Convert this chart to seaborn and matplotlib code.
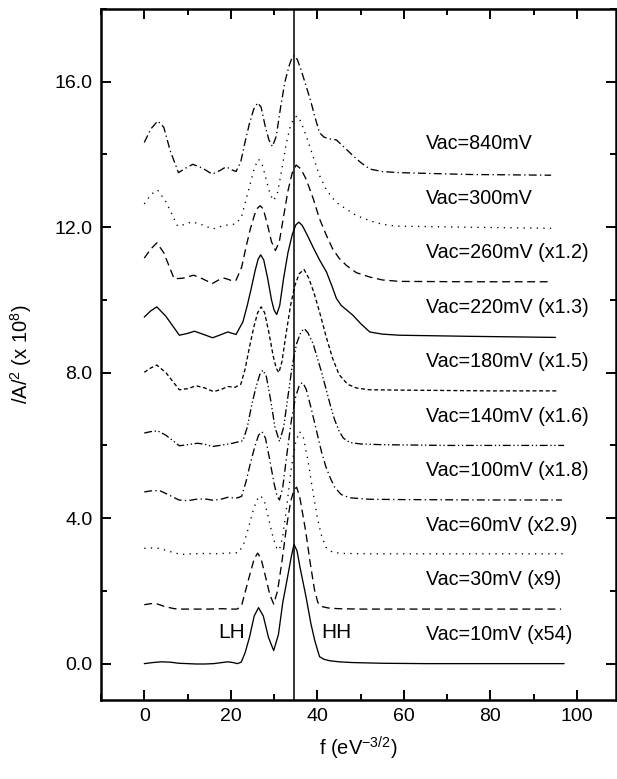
import numpy as np
import pandas as pd
import matplotlib
matplotlib.use("Agg")
import matplotlib.pyplot as plt
from matplotlib.ticker import MultipleLocator, FormatStrFormatter
import seaborn as sns

# ---------------- data ----------------
labels = ["Vac=10mV (x54)", "Vac=30mV (x9)", "Vac=60mV (x2.9)", "Vac=100mV (x1.8)",
          "Vac=140mV (x1.6)", "Vac=180mV (x1.5)", "Vac=220mV (x1.3)",
          "Vac=260mV (x1.2)", "Vac=300mV", "Vac=840mV"]
offsets = [0.0, 1.5, 3.0, 4.5, 6.0, 7.5, 9.0, 10.5, 12.0, 13.5]

f_10 = [0, 2, 4, 6, 8, 10, 12, 14, 16, 18, 19.3, 20.5, 21.5, 22.4, 23.3, 24.3, 25.4, 26.4, 27.5, 28.7,
        29.9, 31, 32, 33, 34, 34.6, 35.3, 36, 37.4, 38.5, 39.4, 40.5, 41.5, 42.8, 45, 48, 55, 65, 80, 97]
a_10 = [0, 0.03, 0.05, 0.04, 0.01, 0.0, -0.01, -0.01, 0.0, 0.03, 0.05, 0.03, 0.0, 0.04, 0.3, 0.72, 1.31, 1.54, 1.31, 0.72,
        0.36, 0.8, 1.68, 2.31, 2.96, 3.28, 3.1, 2.64, 1.82, 1.1, 0.63, 0.19, 0.12, 0.08, 0.05, 0.03, 0.01, 0.0, 0.0, 0.0]

f_30 = [0, 1.5, 3, 5, 7, 9, 12, 15, 18, 20, 21.5, 22.5, 23.5, 24.5, 25.4, 26.2, 27, 28, 29, 29.9,
        30.8, 31.8, 32.8, 33.8, 34.6, 35.2, 35.9, 37.3, 38.3, 39.3, 40.1, 41, 42.5, 45, 50, 60, 75, 96.3]
a_30 = [0.12, 0.15, 0.14, 0.06, 0.01, 0.0, 0.0, 0.0, 0.01, 0.0, 0.0, 0.1, 0.55, 1.0, 1.38, 1.54, 1.38, 0.9, 0.4, 0.14,
        0.5, 1.3, 2.2, 2.95, 3.28, 3.35, 3.1, 2.14, 1.3, 0.55, 0.18, 0.07, 0.03, 0.01, 0.0, 0.0, 0.0, 0.0]

f_60 = [0, 1.5, 3.5, 6, 8.5, 11, 14, 17, 19.5, 21.8, 23, 24, 25, 26, 26.9, 27.8, 28.8, 29.8, 30.6, 31.2,
        32, 33, 34, 35, 35.9, 36.8, 37.8, 39, 40, 41, 42, 43.5, 46, 52, 65, 80, 96.8]
a_60 = [0.17, 0.18, 0.17, 0.08, 0.0, 0.02, 0.03, 0.02, 0.04, 0.05, 0.3, 0.7, 1.15, 1.5, 1.62, 1.45, 0.95, 0.45, 0.18, 0.12,
        0.5, 1.4, 2.4, 3.1, 3.38, 3.2, 2.6, 1.7, 1.0, 0.5, 0.2, 0.06, 0.03, 0.02, 0.02, 0.02, 0.02]

f_100 = [0, 1.5, 3.5, 5.5, 8, 10, 12, 14, 16, 18, 19.5, 21, 22.5, 23.5, 24.5, 25.5, 26.4, 27.2, 28, 29, 30,
         30.7, 31.25, 32, 33, 34, 35, 35.9, 36.6, 37.4, 38.5, 40, 41, 42, 43, 44, 45.5, 47.5, 52, 60, 80, 96.5]
a_100 = [0.22, 0.25, 0.26, 0.15, 0.0, -0.02, 0.02, 0.03, -0.01, 0.03, 0.08, 0.04, 0.1, 0.5, 1.0, 1.45, 1.78, 1.88, 1.7, 1.1, 0.45,
         0.1, 0.0, 0.35, 1.3, 2.2, 2.85, 3.18, 3.23, 3.05, 2.55, 1.8, 1.3, 0.9, 0.6, 0.35, 0.15, 0.06, 0.02, 0.01, 0.0, 0.0]

f_140 = [0, 1.5, 3.1, 5, 8.1, 10, 12.3, 14, 15.8, 18, 20.4, 22.8, 23.8, 24.8, 25.8, 26.7, 27.4, 28.2, 29.2, 30.2,
         31.25, 32.2, 33.2, 34.2, 35.2, 36.2, 37, 37.8, 39, 40, 41, 42, 43, 44, 45, 46, 47.5, 50, 55, 70, 97]
a_140 = [0.34, 0.38, 0.4, 0.28, -0.01, 0.02, 0.06, 0.03, -0.03, 0.01, 0.06, 0.13, 0.5, 1.1, 1.6, 1.95, 2.07, 1.9, 1.25, 0.5,
         0.11, 0.5, 1.35, 2.2, 2.8, 3.12, 3.21, 3.1, 2.8, 2.4, 2.0, 1.55, 1.1, 0.7, 0.4, 0.2, 0.08, 0.04, 0.02, 0.0, 0.0]

f_180 = [0, 1.5, 2.9, 5, 8.1, 10, 12, 14, 16, 17.8, 19.3, 21, 22.3, 23.3, 24.3, 25.3, 26.2, 27, 27.8, 28.8,
         29.8, 30.5, 31.1, 31.8, 32.8, 33.8, 34.8, 35.8, 36.9, 38, 39.2, 40.5, 42, 43.5, 45, 47, 49, 52, 60, 80, 95.6]
a_180 = [0.51, 0.63, 0.71, 0.5, 0.03, 0.06, 0.14, 0.08, -0.02, 0.04, 0.12, 0.1, 0.18, 0.6, 1.2, 1.75, 2.15, 2.31, 2.15, 1.6,
         0.95, 0.62, 0.5, 0.8, 1.6, 2.35, 2.9, 3.22, 3.34, 3.1, 2.7, 2.17, 1.5, 0.9, 0.45, 0.18, 0.08, 0.03, 0.02, 0.0, 0.0]

f_220 = [0, 1.5, 2.9, 5, 8.1, 10, 11.6, 13.5, 15.8, 17.8, 19.3, 21.2, 22.8, 23.8, 24.7, 25.6, 26.3, 26.9, 27.6, 28.5,
         29.4, 30.0, 30.6, 31.3, 32.2, 33.2, 34.2, 35.0, 35.7, 36.5, 37.8, 39, 40.5, 42.1, 43.3, 44.4, 45.5, 46.8, 48.2,
         50, 52.1, 55, 59, 75, 95]
a_220 = [0.53, 0.7, 0.81, 0.55, 0.03, 0.08, 0.14, 0.06, -0.04, 0.05, 0.12, 0.05, 0.4, 0.85, 1.31, 1.8, 2.12, 2.24, 2.1, 1.6,
         1.0, 0.72, 0.6, 0.85, 1.6, 2.3, 2.8, 3.06, 3.14, 3.05, 2.75, 2.45, 2.1, 1.77, 1.4, 1.04, 0.85, 0.72, 0.58,
         0.35, 0.12, 0.06, 0.03, 0.0, -0.03]

f_260 = [0, 1.5, 2.9, 4.5, 6.9, 9, 11.4, 13.5, 15.7, 17.2, 18.5, 20, 21.2, 22.5, 23.5, 24.5, 25.5, 26.2, 26.8, 27.5,
         28.4, 29.4, 30.3, 31.2, 32.2, 33.2, 34.2, 35.1, 36.2, 37.4, 39, 40.5, 42, 43.5, 45, 46.7, 49, 52.1, 55, 59, 75, 94]
a_260 = [0.65, 0.9, 1.07, 0.8, 0.08, 0.1, 0.18, 0.08, -0.05, 0.05, 0.1, 0.04, 0.04, 0.4, 0.95, 1.45, 1.85, 2.03, 2.09, 2.0,
         1.6, 1.1, 0.86, 1.1, 1.8, 2.5, 3.0, 3.21, 3.1, 2.82, 2.3, 1.73, 1.3, 0.91, 0.65, 0.45, 0.25, 0.13, 0.05, 0.01, 0.0, 0.0]

f_300 = [0, 1.5, 3.1, 5, 7.7, 9.5, 11, 13.5, 15.8, 18.5, 21.2, 22.5, 23.5, 24.5, 25.5, 26.4, 27.2, 28.2, 29.1, 29.9,
         30.8, 31.8, 32.8, 33.8, 34.6, 35.3, 36.2, 37.4, 39, 40.5, 42, 43.5, 45, 46.7, 49, 52.1, 55, 58.3, 75, 94]
a_300 = [0.64, 0.9, 1.02, 0.7, 0.03, 0.08, 0.15, 0.06, -0.05, 0.05, 0.09, 0.3, 0.75, 1.2, 1.65, 1.87, 1.75, 1.3, 0.9, 0.73,
         0.95, 1.6, 2.3, 2.8, 3.0, 3.06, 2.9, 2.51, 1.95, 1.42, 1.05, 0.8, 0.62, 0.5, 0.32, 0.18, 0.08, 0.03, 0.0, -0.03]

f_840 = [0, 1.5, 3.1, 4.5, 6, 7.9, 9.5, 11.2, 13.5, 15.7, 17.5, 18.9, 20.2, 21.2, 22.3, 23.3, 24.3, 25.3, 26.2, 27,
         27.9, 28.8, 29.6, 30.5, 31.5, 32.5, 33.5, 34.2, 34.7, 35.4, 36.3, 37.4, 38.5, 39.5, 40.5, 41.5, 42.7, 44.4,
         46, 48.2, 50, 52.1, 55, 59, 75, 94]
a_840 = [0.83, 1.2, 1.42, 1.25, 0.6, 0.0, 0.12, 0.23, 0.12, -0.04, 0.06, 0.16, 0.08, 0.03, 0.3, 0.85, 1.35, 1.75, 1.92, 1.8,
         1.3, 0.9, 0.72, 1.0, 1.8, 2.5, 2.95, 3.18, 3.22, 3.1, 2.8, 2.38, 1.95, 1.5, 1.1, 0.98, 0.93, 0.9,
         0.72, 0.47, 0.28, 0.1, 0.03, 0.0, -0.05, -0.07]

curves_f = [f_10, f_30, f_60, f_100, f_140, f_180, f_220, f_260, f_300, f_840]
curves_a = [a_10, a_30, a_60, a_100, a_140, a_180, a_220, a_260, a_300, a_840]

hh_position = 34.5
peak_labels = ["LH", "HH"]
x_major_ticks = [0, 20, 40, 60, 80, 100]
y_major_ticks = [0.0, 4.0, 8.0, 12.0, 16.0]

# ---------------- styling ----------------
linestyles = ['-', (0, (6, 3.5)), (0, (1, 4)), (0, (6, 2.5, 1, 2.5)), (0, (6, 2, 1, 2, 1, 2)),
              (0, (3, 2)), '-', (0, (6, 3.5)), (0, (1, 4)), (0, (6, 2.5, 1, 2.5))]

sns.set_style("ticks")
plt.rcParams['font.family'] = ['Liberation Sans', 'DejaVu Sans']
plt.rcParams['mathtext.fontset'] = 'custom'
plt.rcParams['mathtext.rm'] = 'Liberation Sans'
plt.rcParams['mathtext.it'] = 'Liberation Sans:italic'
plt.rcParams['mathtext.bf'] = 'Liberation Sans:bold'
plt.rcParams['text.color'] = 'black'
plt.rcParams['axes.labelcolor'] = 'black'
plt.rcParams['xtick.color'] = 'black'
plt.rcParams['ytick.color'] = 'black'

rows = []
for lab, off, fx, ay in zip(labels, offsets, curves_f, curves_a):
    for xv, yv in zip(fx, ay):
        rows.append({"f": xv, "A": yv + off, "curve": lab})
df = pd.DataFrame(rows)

fig = plt.figure(figsize=(6.17, 7.79), dpi=100)
ax = fig.add_axes([101 / 617, 79 / 779, 515 / 617, 691 / 779])

for lab, ls in zip(labels, linestyles):
    sub = df[df["curve"] == lab]
    sns.lineplot(data=sub, x="f", y="A", ax=ax, color="black", lw=0.95,
                 linestyle=ls, sort=False, estimator=None)

ax.axvline(hh_position, color="black", lw=1.1)

ax.set_xlim(-10, 109)
ax.set_ylim(-1, 18)
ax.set_xticks(x_major_ticks)
ax.set_yticks(y_major_ticks)
ax.xaxis.set_minor_locator(MultipleLocator(10))
ax.yaxis.set_minor_locator(MultipleLocator(2))
ax.yaxis.set_major_formatter(FormatStrFormatter('%.1f'))
ax.tick_params(which='both', direction='in', top=True, right=True, width=1.4,
               labelsize=14, colors='black', pad=6)
ax.tick_params(which='major', length=7.5)
ax.tick_params(which='minor', length=4)
for sp in ax.spines.values():
    sp.set_visible(True)
    sp.set_linewidth(1.8)
    sp.set_color('black')

ax.set_xlabel(r"f (eV$^{\mathrm{-3/2}}$)", fontsize=14.5, color='black')
ax.set_ylabel(r"/A/$^2$ (x 10$^8$)", fontsize=14.5, color='black')
ax.xaxis.set_label_coords(0.5, -0.05)
ax.yaxis.set_label_coords(-0.13, 0.5)

for lab, off in zip(labels, offsets):
    ax.text(65, off + 0.8, lab, ha='left', va='center', fontsize=14.2, color='black')

ax.text(20.1, 0.85, peak_labels[0], ha='center', va='center', fontsize=15, color='black')
ax.text(44.4, 0.85, peak_labels[1], ha='center', va='center', fontsize=15, color='black')

fig.savefig("out.png", dpi=100, facecolor="white")
